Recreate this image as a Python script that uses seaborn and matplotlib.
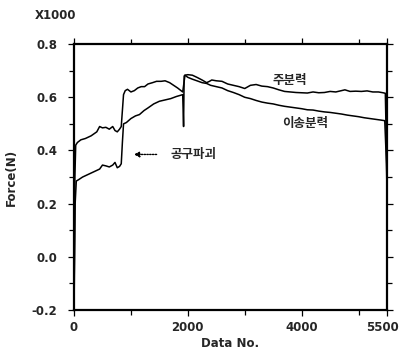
import matplotlib
matplotlib.use("Agg")
import matplotlib.pyplot as plt
import matplotlib.transforms as mtransforms
import seaborn as sns
import pandas as pd
from matplotlib.ticker import MultipleLocator, FixedLocator

# ---- data (values in units of 1000 N, as labelled "X1000") ----
main_x = [0, 15, 30, 60, 120, 200, 300, 400, 450, 500, 560, 620, 680, 720, 760, 800, 830, 850, 870,
          900, 940, 1000, 1060, 1120, 1180, 1240, 1300, 1380, 1450, 1530, 1600, 1680, 1750, 1820,
          1880, 1910, 1950, 2000, 2080, 2160, 2250, 2330, 2380, 2420, 2500, 2600, 2700, 2800, 2900,
          3000, 3100, 3200, 3300, 3400, 3500, 3600, 3700, 3800, 3900, 4000, 4100, 4200, 4300, 4400,
          4500, 4600, 4700, 4760, 4850, 4950, 5050, 5150, 5250, 5350, 5430, 5470, 5490, 5500]
main_y = [-0.2, 0.30, 0.42, 0.43, 0.44, 0.445, 0.455, 0.47, 0.49, 0.485, 0.487, 0.48, 0.49, 0.475,
          0.47, 0.48, 0.49, 0.55, 0.61, 0.625, 0.63, 0.62, 0.625, 0.635, 0.64, 0.64, 0.65, 0.655,
          0.66, 0.66, 0.662, 0.655, 0.645, 0.635, 0.625, 0.62, 0.683, 0.685, 0.683, 0.675, 0.665,
          0.655, 0.66, 0.665, 0.662, 0.66, 0.65, 0.645, 0.64, 0.633, 0.645, 0.648, 0.642, 0.64,
          0.635, 0.628, 0.622, 0.62, 0.618, 0.617, 0.616, 0.62, 0.617, 0.618, 0.622, 0.62, 0.625,
          0.628, 0.622, 0.623, 0.622, 0.624, 0.62, 0.62, 0.617, 0.615, 0.4, 0.25]

feed_x = [0, 20, 40, 80, 150, 250, 350, 450, 500, 560, 620, 680, 720, 760, 800, 830, 850, 870, 920,
          1000, 1080, 1150, 1230, 1300, 1400, 1500, 1600, 1700, 1800, 1880, 1910, 1925, 1935, 1950,
          2000, 2080, 2160, 2250, 2330, 2400, 2500, 2600, 2700, 2800, 2900, 3000, 3100, 3200, 3300,
          3400, 3500, 3600, 3700, 3800, 3900, 4000, 4100, 4200, 4300, 4400, 4500, 4600, 4700, 4800,
          4900, 5000, 5100, 5200, 5300, 5400, 5460, 5490, 5500]
feed_y = [-0.2, 0.2, 0.285, 0.29, 0.30, 0.31, 0.32, 0.33, 0.345, 0.342, 0.338, 0.345, 0.355, 0.335,
          0.34, 0.35, 0.43, 0.50, 0.505, 0.52, 0.53, 0.535, 0.55, 0.56, 0.575, 0.585, 0.59, 0.595,
          0.603, 0.608, 0.61, 0.49, 0.68, 0.683, 0.675, 0.668, 0.662, 0.655, 0.652, 0.645, 0.64,
          0.635, 0.625, 0.618, 0.61, 0.60, 0.595, 0.588, 0.582, 0.578, 0.575, 0.57, 0.566, 0.563,
          0.56, 0.557, 0.553, 0.552, 0.548, 0.545, 0.543, 0.54, 0.537, 0.533, 0.53, 0.527, 0.523,
          0.52, 0.517, 0.514, 0.512, 0.35, 0.24]

x_tick_values = [0, 2000, 4000, 5500]
x_tick_labels = ["0", "2000", "4000", "5500"]
y_tick_values = [-0.2, 0.0, 0.2, 0.4, 0.6, 0.8]
y_tick_labels = ["-0.2", "0.0", "0.2", "0.4", "0.6", "0.8"]

sns.set_style("ticks")
plt.rcParams['font.family'] = ['DejaVu Sans']
KFONT = ['Noto Sans CJK KR', 'DejaVu Sans']

df_main = pd.DataFrame({"x": main_x, "y": main_y})
df_feed = pd.DataFrame({"x": feed_x, "y": feed_y})

fig = plt.figure(figsize=(3.99, 3.5), dpi=100)
ax = fig.add_axes([0.1855, 0.1143, 0.7845, 0.7597])

sns.lineplot(data=df_main, x="x", y="y", ax=ax, color="black", linewidth=1.1, estimator=None, sort=False)
sns.lineplot(data=df_feed, x="x", y="y", ax=ax, color="black", linewidth=1.1, estimator=None, sort=False)

ax.set_xlim(0, 5500)
ax.set_ylim(-0.2, 0.8)
ax.xaxis.set_major_locator(FixedLocator(x_tick_values))
ax.set_xticklabels(x_tick_labels)
ax.xaxis.set_minor_locator(FixedLocator([1000, 3000, 5000]))
ax.yaxis.set_major_locator(FixedLocator(y_tick_values))
ax.set_yticklabels(y_tick_labels)
ax.yaxis.set_minor_locator(MultipleLocator(0.1))

for s in ax.spines.values():
    s.set_visible(True)
    s.set_linewidth(1.6)
    s.set_color("black")

ax.tick_params(which="both", direction="out", top=True, right=True, labeltop=False, labelright=False,
               color="black", width=0.9)
ax.tick_params(which="major", length=4, labelsize=8.5, pad=4)
ax.tick_params(which="minor", length=3.5)
ax.tick_params(axis="y", which="major", pad=8)
for lab in ax.get_xticklabels() + ax.get_yticklabels():
    lab.set_fontweight("bold")

# keep the last x label inside the canvas
last = ax.get_xticklabels()[-1]
last.set_transform(last.get_transform() + mtransforms.ScaledTranslation(-5 / 100, 0, fig.dpi_scale_trans))

ax.set_xlabel("Data No.", fontsize=8.5, fontweight="bold", labelpad=2)
ax.set_ylabel("Force(N)", fontsize=8.5, fontweight="bold", labelpad=10)

fig.text(0.088, 0.955, "X1000", fontsize=8.5, fontweight="bold", ha="left", va="center")

ax.text(3790, 0.663, "주분력", fontsize=9, fontweight="bold", family=KFONT, ha="center", va="center")
ax.text(4055, 0.503, "이송분력", fontsize=9, fontweight="bold", family=KFONT, ha="center", va="center")

ax.annotate("", xy=(1000, 0.385), xytext=(1500, 0.385),
            arrowprops=dict(arrowstyle="-|>", color="black", lw=1.0, linestyle=(0, (1, 1)),
                            mutation_scale=8))
ax.text(1700, 0.385, "공구파괴", fontsize=9, fontweight="bold", family=KFONT, ha="left", va="center")

fig.savefig("out.png", dpi=100)
